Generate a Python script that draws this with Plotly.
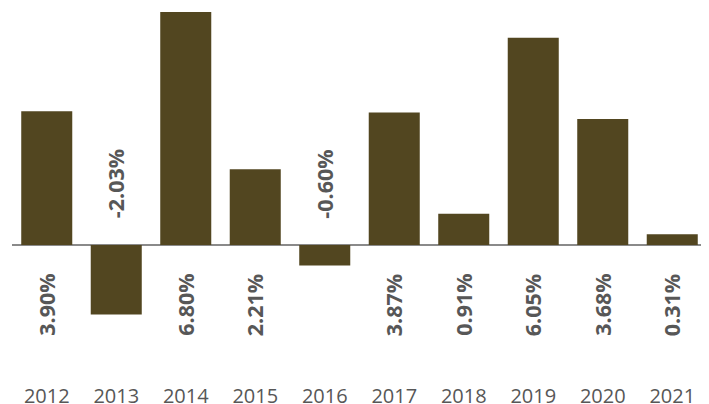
import plotly.graph_objects as go

years = ["2012", "2013", "2014", "2015", "2016", "2017", "2018", "2019", "2020", "2021"]
values = [3.90, -2.03, 6.80, 2.21, -0.60, 3.87, 0.91, 6.05, 3.68, 0.31]
labels = ["3.90%", "-2.03%", "6.80%", "2.21%", "-0.60%", "3.87%", "0.91%", "6.05%", "3.68%", "0.31%"]

BAR = "#524620"
TXT = "#575757"
FONT = "Open Sans, Noto Sans, sans-serif"

fig = go.Figure()
fig.add_trace(go.Bar(x=years, y=values, marker=dict(color=BAR, line=dict(width=0)),
                     hoverinfo="skip"))

for i, (v, lab) in enumerate(zip(values, labels)):
    fig.add_annotation(x=i, y=0, xref="x", yref="y", text=f"<b>{lab}</b>",
                       textangle=-90, showarrow=False, xanchor="center", yanchor="middle",
                       yshift=-60 if v >= 0 else 61,
                       font=dict(family=FONT, size=21.5, color=TXT))

# page body has an 8px margin, so the figure is sized to fit the window
fig.update_layout(
    width=701, height=396,
    margin=dict(l=4, r=2, t=4, b=22),
    paper_bgcolor="white", plot_bgcolor="white",
    bargap=0.266, showlegend=False,
    xaxis=dict(type="category", range=[-0.5, 9.5], autorange=False, automargin=False,
               showgrid=False, showline=False, ticks="", zeroline=False,
               tickfont=dict(family=FONT, size=20, color=TXT)),
    yaxis=dict(range=[-4.0, 6.8], autorange=False, automargin=False,
               showgrid=False, showticklabels=False, ticks="",
               zeroline=True, zerolinecolor="#8a8a8a", zerolinewidth=2, showline=False),
)

fig.write_html("out.html")
